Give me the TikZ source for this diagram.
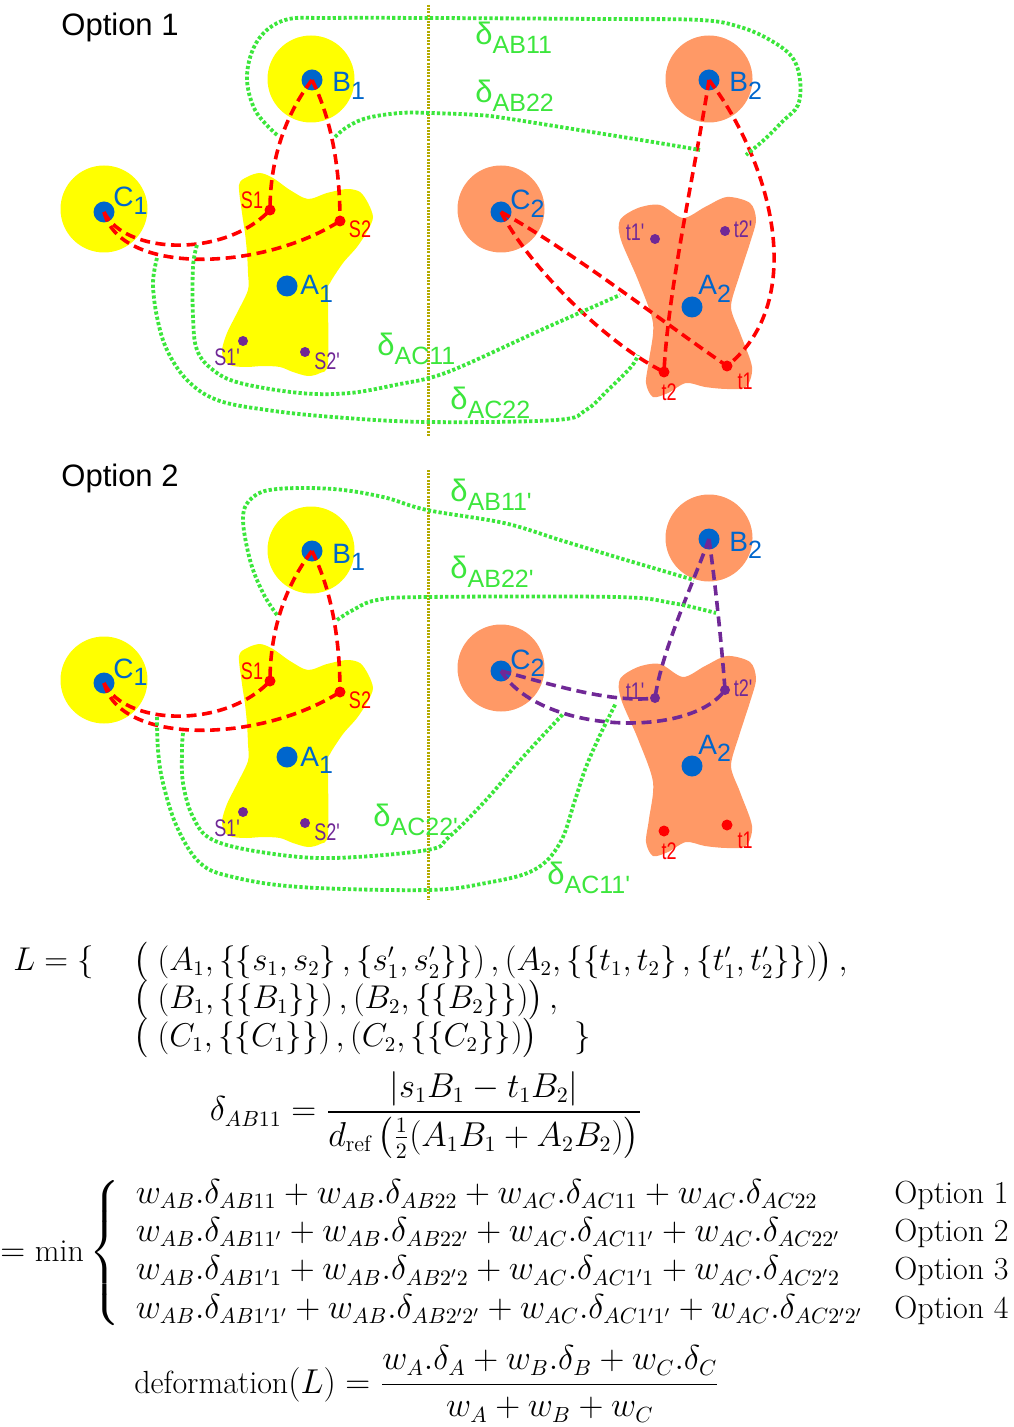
\documentclass[tikz,border=0pt]{standalone}
\usepackage{amsmath}
\usepackage{fontspec}
\newfontfamily\hv{Liberation Sans}
\usetikzlibrary{positioning}

\definecolor{ylw}{RGB}{255,255,0}
\definecolor{salmon}{RGB}{255,153,102}
\definecolor{ptblue}{RGB}{0,102,204}
\definecolor{ptred}{RGB}{255,0,0}
\definecolor{ptpurple}{RGB}{112,40,150}
\definecolor{lgreen}{RGB}{60,230,60}
\definecolor{divline}{RGB}{180,170,0}

% ---- label helpers ----
\newcommand{\sub}[2]{#1\raisebox{-3.8pt}{\fontsize{12.5}{12}\selectfont #2}}
\newcommand{\dsub}[1]{δ\raisebox{-0.28em}{\fontsize{12.5}{12}\selectfont #1}}
\newcommand{\cond}[1]{\scalebox{0.75}[1]{#1}}
\newcommand{\lset}[1]{\scalebox{0.953}{#1}}

\begin{document}
\begin{tikzpicture}[x=0.5pt, y=-0.5pt,
  zone/.style={circle, inner sep=0pt, minimum size=43.5pt},
  ctr/.style={circle, fill=ptblue, inner sep=0pt, minimum size=10.5pt},
  sdot/.style={circle, fill=ptred, inner sep=0pt, minimum size=5.5pt},
  pdot/.style={circle, fill=ptpurple, inner sep=0pt, minimum size=5pt},
  lnk/.style={draw=ptred, line width=1.8pt, dash pattern=on 5pt off 2.8pt},
  plnk/.style={lnk, draw=ptpurple},
  gap/.style={draw=lgreen, line width=1.9pt, dash pattern=on 1.6pt off 1.1pt},
  sep/.style={draw=divline, line width=1.5pt, dash pattern=on 1pt off 0.6pt},
  nm/.style={font=\hv\fontsize{14}{14}\selectfont, text=ptblue, inner sep=0pt, anchor=base west},
  pt/.style={font=\hv\fontsize{12}{12}\selectfont, inner sep=0pt},
  dl/.style={font=\hv\fontsize{15.5}{16}\selectfont, text=lgreen, inner sep=0pt, anchor=west},
  ttl/.style={font=\hv\fontsize{15.5}{16}\selectfont, inner sep=0pt, anchor=west},
  mth/.style={font=\fontsize{16}{19.2}\selectfont, inner sep=0pt},
  lrow/.style={mth, anchor=west},
]
\useasboundingbox (0,0) rectangle (1013,1427);

% ---- left group (A1, B1, C1): #1 prefix, #2 y shift ----
\newcommand{\leftpart}[2]{%
  \begin{scope}[shift={(0,#2)}]
    \fill[ylw] plot[smooth cycle, tension=0.5] coordinates {(239,185) (247,177) (260,173) (273,178) (290,190) (308,199) (327,193) (347,189) (360,192) (368,203) (373,217) (368,230) (357,247) (343,263) (330,283) (328,293) (328,363) (320,373) (308,376) (293,372) (280,367) (263,366) (247,367) (233,366) (225,362) (222,350) (227,333) (237,313) (248,290) (248,273) (247,253) (245,233) (242,213)};
    \node[zone, fill=ylw] (#1Bz) at (311,79) {};
    \node[zone, fill=ylw] (#1Cz) at (104,209) {};
    \node[ctr] (#1B1) at (312,80) {};
    \node[ctr] (#1C1) at (104,212) {};
    \node[ctr] (#1A1) at (287,286) {};
    \node[sdot] (#1s1) at (270,210) {};
    \node[sdot] (#1s2) at (340,221) {};
    \node[pdot] (#1s1p) at (243,341) {};
    \node[pdot] (#1s2p) at (305,352) {};
    \draw[lnk] (#1C1.center) .. controls (125,255) and (225,258) .. (#1s1.center);
    \draw[lnk] (#1C1.center) .. controls (120,275) and (260,272) .. (#1s2.center);
    \draw[lnk] (#1B1.center) .. controls (285,115) and (270,160) .. (#1s1.center);
    \draw[lnk] (#1B1.center) .. controls (332,120) and (340,170) .. (#1s2.center);
    \node[nm] (#1B1l) at (332,92) {\sub{B}{1}};
    \node[nm] (#1C1l) at (113,207) {\sub{C}{1}};
    \node[nm] (#1A1l) at (300,295) {\sub{A}{1}};
    \node[pt, text=ptred] (#1s1l) at (252,200) {\cond{S1}};
    \node[pt, text=ptred] (#1s2l) at (360,229) {\cond{S2}};
    \node[pt, text=ptpurple] (#1s1pl) at (227,357) {\cond{S1'}};
    \node[pt, text=ptpurple] (#1s2pl) at (327,361) {\cond{S2'}};
  \end{scope}}

% ---- right group (A2, B2, C2): #1 prefix, #2 y shift ----
\newcommand{\rightpart}[2]{%
  \begin{scope}[shift={(0,#2)}]
    \fill[salmon] plot[smooth cycle, tension=0.5] coordinates {(620,220) (638,208) (660,205) (683,218) (705,207) (727,197) (750,203) (756,220) (750,243) (739,277) (731,307) (740,333) (752,367) (746,387) (727,389) (705,387) (686,383) (668,393) (653,397) (646,383) (649,360) (653,323) (638,280) (621,240)};
    \node[zone, fill=salmon] (#1Bz) at (709,79) {};
    \node[zone, fill=salmon] (#1Cz) at (501,209) {};
    \node[ctr] (#1B2) at (709,80) {};
    \node[ctr] (#1C2) at (501,212) {};
    \node[ctr] (#1A2) at (692,307) {};
    \node[sdot] (#1t1) at (727,366) {};
    \node[sdot] (#1t2) at (664,372) {};
    \node[pdot] (#1t1p) at (655,239) {};
    \node[pdot] (#1t2p) at (725,231) {};
    \node[nm] (#1B2l) at (729,92) {\sub{B}{2}};
    \node[nm] (#1C2l) at (510,210) {\sub{C}{2}};
    \node[nm] (#1A2l) at (698,295) {\sub{A}{2}};
    \node[pt, text=ptred] (#1t1l) at (745,381) {\cond{t1}};
    \node[pt, text=ptred] (#1t2l) at (669,392) {\cond{t2}};
    \node[pt, text=ptpurple] (#1t1pl) at (635,232) {\cond{t1'}};
    \node[pt, text=ptpurple] (#1t2pl) at (743,229) {\cond{t2'}};
  \end{scope}}

% ======================= Option 1 =======================
\node[ttl] (opt1) at (61,27) {Option 1};
\coordinate (sepAt) at (428,5); \coordinate (sepAb) at (428,436);
\draw[sep] (sepAt) -- (sepAb);
\leftpart{a}{0}
\rightpart{a}{0}
\draw[lnk] (aC2.center) .. controls (525,260) and (600,340) .. (at2.center);
\draw[lnk] (aC2.center) .. controls (570,250) and (660,320) .. (at1.center);
\draw[lnk] (aB2.center) .. controls (695,170) and (668,290) .. (at2.center);
\draw[lnk] (aB2.center) .. controls (770,160) and (810,300) .. (at1.center);

% green gaps
\draw[gap] plot[smooth, tension=0.6] coordinates {(277,135) (255,110) (247,75) (258,40) (285,20) (330,18) (428,18) (600,19) (700,20) (740,27) (770,40) (792,57) (800,80) (798,105) (783,121) (765,139) (746,155)};
\draw[gap] plot[smooth, tension=0.6] coordinates {(335,137) (347,127) (367,118) (400,113) (430,113) (478,115) (504,118) (579,130) (653,142) (700,150)};
\draw[gap] plot[smooth, tension=0.6] coordinates {(197,245) (193,267) (193,317) (197,350) (213,370) (240,383) (300,393) (350,393) (400,384) (433,377) (467,364) (541,330) (620,295)};
\draw[gap] plot[smooth, tension=0.6] coordinates {(157,258) (153,283) (157,317) (167,350) (187,380) (217,400) (267,410) (333,417) (427,422) (556,420) (586,410) (608,390) (631,367) (638,355)};
\node[dl] (dAB11) at (475,38) {\dsub{AB11}};
\node[dl] (dAB22) at (475,96) {\dsub{AB22}};
\node[dl] (dAC11) at (377,349) {\dsub{AC11}};
\node[dl] (dAC22) at (450,403) {\dsub{AC22}};

% ======================= Option 2 =======================
\node[ttl] (opt2) at (61,478) {Option 2};
\coordinate (sepBt) at (428,470); \coordinate (sepBb) at (428,900);
\draw[sep] (sepBt) -- (sepBb);
\leftpart{b}{471}
\rightpart{b}{459}
\begin{scope}[shift={(0,459)}]
  \draw[plnk] (bC2.center) .. controls (540,222) and (610,245) .. (bt1p.center);
  \draw[plnk] (bC2.center) .. controls (540,275) and (690,280) .. (bt2p.center);
  \draw[plnk] (bB2.center) .. controls (695,120) and (662,190) .. (bt1p.center);
  \draw[plnk] (bB2.center) .. controls (716,130) and (722,190) .. (bt2p.center);
\end{scope}

% green gaps
\draw[gap] plot[smooth, tension=0.6] coordinates {(277,615) (263,593) (250,560) (243,517) (253,497) (277,489) (333,489) (383,497) (427,510) (504,523) (560,540) (616,557) (660,570) (694,580)};
\draw[gap] plot[smooth, tension=0.6] coordinates {(337,620) (353,610) (377,600) (427,597) (616,597) (672,603) (716,613)};
\draw[gap] plot[smooth, tension=0.6] coordinates {(183,733) (182,750) (183,783) (193,817) (213,840) (267,853) (333,858) (427,850) (449,837) (486,800) (523,757) (564,713)};
\draw[gap] plot[smooth, tension=0.6] coordinates {(157,717) (158,750) (163,783) (177,827) (200,863) (233,877) (300,887) (427,890) (486,883) (534,870) (560,843) (575,800) (586,767) (601,733) (616,703)};
\node[dl] (dAB11p) at (450,495) {\dsub{AB11'}};
\node[dl] (dAB22p) at (450,572) {\dsub{AB22'}};
\node[dl] (dAC22p) at (373,820) {\dsub{AC22'}};
\node[dl] (dAC11p) at (547,878) {\dsub{AC11'}};

% ======================= formulas =======================
\node[lrow] (Lhead) at (13,962) {\lset{$L=\{$}};
\node[lrow] (Lrow1) at (133,962) {\lset{$\bigl(\;(A_1,\{\{s_1,s_2\}\,,\{s'_1,s'_2\}\})\,,(A_2,\{\{t_1,t_2\}\,,\{t'_1,t'_2\}\})\bigr)\,,$}};
\node[lrow] (Lrow2) at (133,1000) {\lset{$\bigl(\;(B_1,\{\{B_1\}\})\,,(B_2,\{\{B_2\}\})\bigr)\,,$}};
\node[lrow] (Lrow3) at (133,1038) {\lset{$\bigl(\;(C_1,\{\{C_1\}\})\,,(C_2,\{\{C_2\}\})\bigr)$}};
\node[lrow] (Lclose) at (574,1038) {\lset{$\}$}};

\node[mth] (dABeq) at (426,1115) {$\delta_{AB11}=\dfrac{|s_1B_1-t_1B_2|}{d_{\mathrm{ref}}\left(\frac{1}{2}(A_1B_1+A_2B_2)\right)}$};

\node[mth, anchor=west] (minsel) at (0,1253) {$=\min\left\{\;\begin{array}{@{\,}l@{\quad}l}
  w_{AB}.\delta_{AB11}+w_{AB}.\delta_{AB22}+w_{AC}.\delta_{AC11}+w_{AC}.\delta_{AC22} & \mbox{Option 1}\\
  w_{AB}.\delta_{AB11'}+w_{AB}.\delta_{AB22'}+w_{AC}.\delta_{AC11'}+w_{AC}.\delta_{AC22'} & \mbox{Option 2}\\
  w_{AB}.\delta_{AB1'1}+w_{AB}.\delta_{AB2'2}+w_{AC}.\delta_{AC1'1}+w_{AC}.\delta_{AC2'2} & \mbox{Option 3}\\
  w_{AB}.\delta_{AB1'1'}+w_{AB}.\delta_{AB2'2'}+w_{AC}.\delta_{AC1'1'}+w_{AC}.\delta_{AC2'2'} & \mbox{Option 4}
  \end{array}\right.$};

\node[mth] (defeq) at (427,1384) {$\mathrm{deformation}(L)=\dfrac{w_A.\delta_A+w_B.\delta_B+w_C.\delta_C}{w_A+w_B+w_C}$};
\end{tikzpicture}
\end{document}
